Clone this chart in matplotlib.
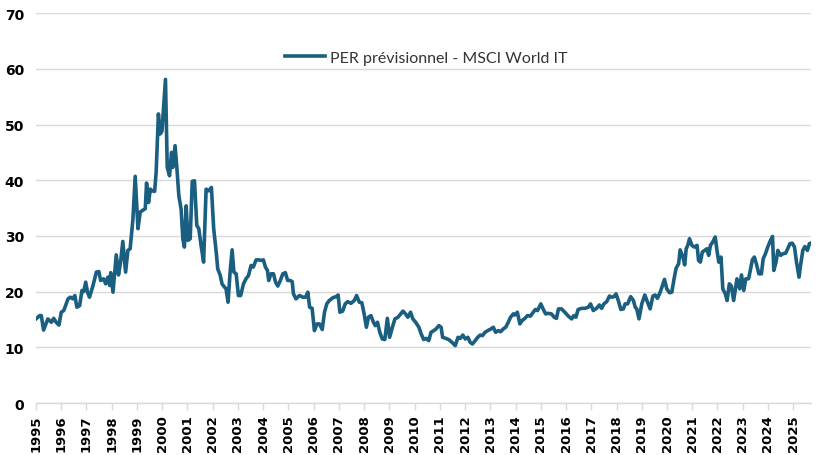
import matplotlib.pyplot as plt
import numpy as np

# Dates en années décimales et PER prévisionnel
dates = [
    1995.00, 1995.15, 1995.21, 1995.30, 1995.47, 1995.61, 1995.70, 1995.80, 1995.91,
    1996.00, 1996.10, 1996.27, 1996.36, 1996.46, 1996.54, 1996.62, 1996.73, 1996.82, 1996.89, 1996.97,
    1997.04, 1997.12, 1997.26, 1997.39, 1997.49, 1997.56, 1997.68, 1997.76, 1997.85, 1997.92, 1997.96,
    1998.05, 1998.18, 1998.27, 1998.35, 1998.44, 1998.55, 1998.64, 1998.73, 1998.84, 1998.93,
    1999.04, 1999.13, 1999.23, 1999.33, 1999.38, 1999.46, 1999.53, 1999.60, 1999.70, 1999.76, 1999.85, 1999.92, 1999.99,
    2000.05, 2000.13, 2000.20, 2000.29, 2000.37, 2000.42, 2000.51, 2000.58, 2000.66, 2000.75, 2000.82, 2000.88, 2000.95,
    2001.02, 2001.11, 2001.19, 2001.28, 2001.37, 2001.45, 2001.54, 2001.64, 2001.74, 2001.85, 2001.95,
    2002.04, 2002.14, 2002.20, 2002.30, 2002.37, 2002.47, 2002.53, 2002.61, 2002.69, 2002.77, 2002.84, 2002.93,
    2003.02, 2003.11, 2003.22, 2003.32, 2003.42, 2003.52, 2003.61, 2003.72, 2003.83, 2003.92,
    2004.01, 2004.09, 2004.17, 2004.22, 2004.31, 2004.41, 2004.49, 2004.58, 2004.68, 2004.78, 2004.88, 2004.97,
    2005.07, 2005.15, 2005.20, 2005.30, 2005.44, 2005.57, 2005.68, 2005.77, 2005.84, 2005.94,
    2006.03, 2006.13, 2006.23, 2006.34, 2006.43, 2006.52, 2006.62, 2006.76, 2006.89, 2006.97,
    2007.04, 2007.15, 2007.25, 2007.35, 2007.48, 2007.61, 2007.70, 2007.81, 2007.91,
    2008.00, 2008.09, 2008.17, 2008.27, 2008.36, 2008.44, 2008.53, 2008.62, 2008.72, 2008.82, 2008.92,
    2009.01, 2009.12, 2009.22, 2009.34, 2009.45, 2009.54, 2009.64, 2009.73, 2009.84, 2009.93,
    2010.04, 2010.17, 2010.26, 2010.36, 2010.46, 2010.56, 2010.65, 2010.76, 2010.85, 2010.96,
    2011.05, 2011.11, 2011.24, 2011.35, 2011.48, 2011.61, 2011.72, 2011.81, 2011.91,
    2012.01, 2012.11, 2012.20, 2012.29, 2012.40, 2012.50, 2012.60, 2012.69, 2012.79, 2012.90,
    2013.02, 2013.12, 2013.21, 2013.32, 2013.41, 2013.51, 2013.61, 2013.71, 2013.80, 2013.91, 2013.97,
    2014.07, 2014.17, 2014.26, 2014.37, 2014.47, 2014.59, 2014.70, 2014.79, 2014.87,
    2015.00, 2015.09, 2015.19, 2015.29, 2015.42, 2015.53, 2015.62, 2015.70, 2015.82, 2015.95,
    2016.09, 2016.22, 2016.31, 2016.39, 2016.48, 2016.62, 2016.75, 2016.88, 2016.97,
    2017.08, 2017.21, 2017.32, 2017.41, 2017.50, 2017.61, 2017.72, 2017.81, 2017.90, 2017.98,
    2018.07, 2018.17, 2018.27, 2018.34, 2018.44, 2018.56, 2018.67, 2018.74, 2018.80, 2018.89,
    2019.00, 2019.12, 2019.23, 2019.33, 2019.44, 2019.53, 2019.62, 2019.73, 2019.82, 2019.90, 2019.99,
    2020.10, 2020.19, 2020.28, 2020.36, 2020.46, 2020.52, 2020.63, 2020.70, 2020.76, 2020.83, 2020.89, 2020.99,
    2021.08, 2021.19, 2021.25, 2021.32, 2021.40, 2021.49, 2021.58, 2021.65, 2021.72, 2021.81, 2021.91, 2021.98,
    2022.05, 2022.14, 2022.21, 2022.31, 2022.38, 2022.47, 2022.55, 2022.64, 2022.71, 2022.77, 2022.88, 2022.95,
    2023.04, 2023.12, 2023.23, 2023.30, 2023.38, 2023.46, 2023.54, 2023.64, 2023.74, 2023.81, 2023.90, 2023.99,
    2024.10, 2024.18, 2024.23, 2024.32, 2024.39, 2024.50, 2024.59, 2024.70, 2024.79, 2024.87, 2024.96,
    2025.05, 2025.13, 2025.23, 2025.29, 2025.38, 2025.46, 2025.56, 2025.64, 2025.69,
]

per = [
    15.1, 15.7, 15.7, 13.1, 15.1, 14.5, 15.2, 14.5, 14.0,
    16.3, 16.6, 18.7, 19.0, 18.7, 19.3, 17.2, 17.5, 20.2, 20.0, 21.7,
    19.9, 19.0, 21.1, 23.5, 23.6, 22.0, 22.3, 21.4, 22.6, 21.1, 23.4,
    19.9, 26.6, 23.0, 25.3, 29.0, 23.5, 27.4, 27.7, 33.0, 40.7,
    31.3, 34.3, 34.6, 34.9, 39.5, 36.0, 38.4, 38.1, 38.0, 41.4, 51.9, 48.3, 48.8,
    52.8, 58.1, 42.3, 40.8, 45.0, 42.3, 46.2, 42.3, 37.2, 34.8, 29.4, 28.0, 35.4,
    29.2, 29.5, 39.8, 39.9, 31.9, 31.3, 28.3, 25.3, 38.4, 38.1, 38.7,
    31.3, 27.1, 24.1, 22.9, 21.4, 20.8, 20.5, 18.1, 23.5, 27.5, 23.5, 23.2,
    19.3, 19.3, 21.4, 22.3, 22.9, 24.7, 24.4, 25.7, 25.7, 25.6,
    25.7, 24.4, 23.8, 22.0, 23.2, 23.2, 21.7, 21.0, 22.0, 23.2, 23.4, 22.0,
    22.0, 21.8, 19.6, 18.7, 19.3, 19.0, 19.0, 19.9, 17.2, 17.0,
    13.0, 14.2, 14.2, 13.2, 16.3, 17.8, 18.4, 18.9, 19.1, 19.4,
    16.3, 16.5, 17.8, 18.2, 17.9, 18.4, 19.3, 18.1, 18.0,
    16.0, 13.6, 15.4, 15.7, 14.6, 13.9, 14.5, 12.7, 11.5, 11.4, 15.2,
    11.8, 13.6, 15.1, 15.4, 16.0, 16.5, 16.0, 15.4, 16.3, 15.1,
    14.5, 13.6, 12.4, 11.4, 11.6, 11.2, 12.7, 13.0, 13.3, 13.9,
    13.6, 11.8, 11.6, 11.4, 10.9, 10.3, 11.8, 11.6, 12.2,
    11.5, 11.8, 10.9, 10.6, 11.2, 11.8, 12.2, 12.1, 12.7, 13.0,
    13.3, 13.6, 12.7, 13.0, 12.8, 13.3, 13.6, 14.5, 15.4, 16.0, 15.8,
    16.3, 14.2, 14.8, 15.2, 15.7, 15.6, 16.3, 16.8, 16.6,
    17.8, 16.9, 16.0, 16.1, 16.0, 15.4, 15.2, 16.9, 16.9, 16.3,
    15.6, 15.1, 15.7, 15.4, 16.8, 17.0, 17.0, 17.2, 17.8,
    16.6, 17.0, 17.6, 17.0, 17.8, 18.2, 19.2, 19.0, 19.1, 19.6,
    18.4, 16.8, 16.9, 17.8, 17.8, 19.1, 18.4, 17.2, 16.9, 15.1,
    17.8, 19.4, 18.1, 16.9, 19.2, 19.4, 18.8, 19.9, 21.1, 22.2, 20.5,
    19.8, 19.9, 22.3, 24.2, 25.0, 27.5, 26.2, 24.8, 27.7, 28.4, 29.5, 28.3,
    28.0, 28.3, 25.6, 25.3, 27.1, 27.4, 27.7, 26.5, 28.3, 28.9, 29.8, 27.4,
    25.3, 26.2, 20.5, 19.6, 18.4, 21.4, 21.0, 18.4, 20.5, 22.3, 20.5, 23.0,
    20.2, 22.3, 22.3, 23.8, 25.7, 26.2, 25.0, 23.2, 23.2, 25.9, 26.8, 28.0,
    29.2, 29.9, 23.8, 25.3, 27.4, 26.5, 26.8, 26.9, 27.8, 28.6, 28.7,
    28.0, 25.3, 22.6, 24.7, 27.4, 28.1, 27.4, 28.6, 28.7,
]

years = list(range(1995, 2026))
yticks = [0, 10, 20, 30, 40, 50, 60, 70]
label = "PER prévisionnel - MSCI World IT"

line_color = "#1a5e80"
grid_color = "#d9d9d9"

fig = plt.figure(figsize=(8.18, 4.56), dpi=100)
ax = fig.add_axes([0.044, 0.114, 0.947, 0.855])

ax.plot(dates, per, color=line_color, linewidth=2.6, label=label,
        solid_joinstyle="round")

ax.set_xlim(1995, 2025.69)
ax.set_ylim(0, 70)

# grille horizontale uniquement
ax.set_yticks(yticks)
ax.yaxis.grid(True, color=grid_color, linewidth=1)
ax.set_axisbelow(True)
for s in ["top", "right", "left"]:
    ax.spines[s].set_visible(False)
ax.spines["bottom"].set_color(grid_color)
ax.spines["bottom"].set_linewidth(1)

ax.set_xticks(years)
ax.set_xticklabels([str(y) for y in years], rotation=90, fontsize=9.5,
                   fontweight="bold", color="black")
ax.set_yticklabels([str(v) for v in yticks], fontsize=10, fontweight="bold")
ax.tick_params(axis="x", length=5, color=grid_color, width=1, pad=3)
ax.tick_params(axis="y", length=0, pad=8.5, labelcolor="black")

leg = ax.legend(loc="center", bbox_to_anchor=(0.504, 0.885), frameon=False,
                handlelength=2.5, handletextpad=0.3,
                prop={"family": "Lato", "size": 11.5})
for t in leg.get_texts():
    t.set_color("#333333")

fig.savefig("out.png", dpi=100)
